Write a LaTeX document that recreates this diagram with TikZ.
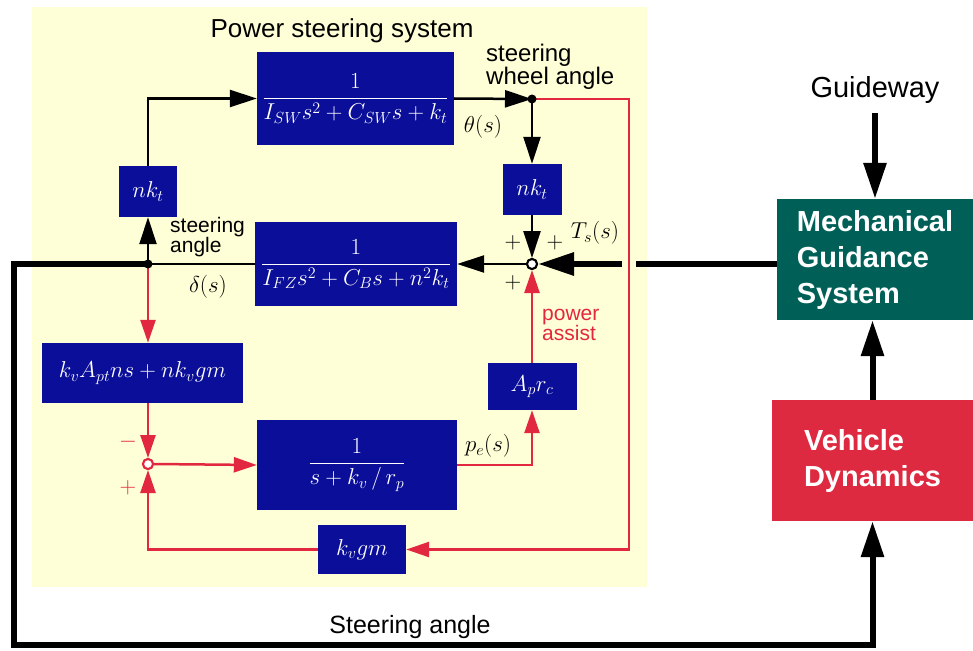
\documentclass[tikz,border=0pt]{standalone}
\usepackage{fix-cm}
\usepackage{fontspec}
\setmainfont{Liberation Sans}
\usetikzlibrary{arrows.meta,calc}
\definecolor{bblue}{RGB}{10,14,152}
\definecolor{rline}{RGB}{226,40,64}
\definecolor{teal}{RGB}{0,96,88}
\definecolor{vdred}{RGB}{222,42,64}
\definecolor{ybg}{RGB}{255,255,215}
\newcommand\mfs{\fontsize{23}{27}\selectfont}
\tikzset{
  blk/.style={fill=bblue, text=white, inner sep=0pt, font=\mfs},
  bl/.style={draw=black, line width=2.5pt},
  thk/.style={draw=black, line width=6pt},
  rd/.style={draw=rline, line width=2.5pt},
  tipB/.style={-{Triangle[length=27pt,width=17pt]}},
  tipT/.style={-{Triangle[length=36pt,width=22pt]}},
  tipR/.style={-{Triangle[length=23pt,width=15pt]}},
  sumc/.style={circle, draw=black, fill=white, line width=2pt, minimum size=10pt, inner sep=0pt},
  sumr/.style={circle, draw=rline, fill=white, line width=2pt, minimum size=10pt, inner sep=0pt},
  lbl/.style={inner sep=0pt, font=\fontsize{21}{18}\selectfont, align=left, anchor=west},
  mlbl/.style={inner sep=0pt, font=\mfs},
  sgn/.style={inner sep=0pt, font=\fontsize{23}{24}\selectfont},
  bigbox/.style={inner sep=0pt, text=white, align=left, font=\fontsize{29}{36}\selectfont\bfseries},
}
\begin{document}
\begin{tikzpicture}[x=1pt,y=-1pt]
\useasboundingbox (0,0) rectangle (973,650);
\fill[ybg] (32,7) rectangle (647,587);

% title
\node[inner sep=0pt, font=\fontsize{26}{28}\selectfont] (title) at (342,31) {Power steering system};

% blocks
\node[blk, minimum width=197pt, minimum height=93pt] (G1) at (355.5,98.5)
  {$\displaystyle\frac{1}{I_{SW}s^2+C_{SW}s+k_t}$};
\node[blk, minimum width=202pt, minimum height=84pt] (G2) at (356,264)
  {$\displaystyle\frac{1}{I_{FZ}s^2+C_{B}s+n^2k_t}$};
\node[blk, minimum width=58pt, minimum height=51pt] (nkL) at (148,191.5) {$nk_t$};
\node[blk, minimum width=59pt, minimum height=51pt] (nkR) at (532,189.5) {$nk_t$};
\node[blk, minimum width=201pt, minimum height=60pt] (kvA) at (142.5,373) {$k_vA_{pt}ns+nk_vgm$};
\node[blk, minimum width=200pt, minimum height=90pt] (G3) at (357,465)
  {$\displaystyle\frac{1}{s+k_v\,/\,r_p}$};
\node[blk, minimum width=89pt, minimum height=47pt] (Aprc) at (532,386.5) {$A_pr_c$};
\node[blk, minimum width=88pt, minimum height=49pt] (kvgm) at (362,549.5) {$k_vgm$};

\node[bigbox, fill=teal, minimum width=196pt, minimum height=121pt] (MGS) at (875,259.5)
  {Mechanical\\Guidance\\System};
\node[bigbox, fill=vdred, minimum width=201pt, minimum height=121pt] (VD) at (872.5,460.5)
  {Vehicle\\Dynamics};

\node[inner sep=0pt, font=\fontsize{29}{32}\selectfont] (gw) at (875,90) {Guideway};
\coordinate (gwS) at (875,113);
\node[inner sep=0pt, font=\fontsize{25}{28}\selectfont] (sa) at (410,627) {Steering angle};

% junctions
\coordinate (jT) at (532,99);
\coordinate (jL) at (148,264);
\node[sumc] (S1) at (532,264) {};
\node[sumr] (S2) at (148,464) {};

% corner coordinates
\coordinate (rTR) at (629,99);
\coordinate (rBR) at (629,549.5);
\coordinate (cLT) at (14,264);
\coordinate (cLB) at (14,645);
\coordinate (gapR) at (636,264);
\coordinate (gapL) at (622,264);

% red paths
\draw[rd, tipR] (jT) -- (rTR) -- (rBR) -- (kvgm.east);
\draw[rd, tipR] (jL) -- (jL |- kvA.north);
\draw[rd, tipR] (jL |- kvA.south) -- (S2.north);
\draw[rd, tipR] (S2.east) -- (G3.west);
\draw[rd, tipR] (G3.east) -| (Aprc.south);
\draw[rd, tipR] (Aprc.north) -- (S1.south);
\draw[rd, tipR] (kvgm.west) -| (S2.south);

% black paths
\draw[bl, tipB] (nkL.north) |- (G1.west);
\draw[bl, tipB] (G1.east) -- (jT);
\draw[bl, tipB] (jT) -- (nkR.north);
\draw[bl, tipB] (nkR.south) -- (S1.north);
\draw[bl, tipB] (S1.west) -- (G2.east);
\draw[bl] (G2.west) -- (jL);
\draw[bl, tipB] (jL) -- (nkL.south);

% thick paths
\draw[thk, tipT] (jL) -- (cLT) -- (cLB) -| (VD.south);
\draw[thk, tipT] (VD.north) -- (VD.north |- MGS.south);
\draw[thk, tipT] (gwS) -- (MGS.north);
\draw[thk] (S1 -| MGS.west) -- (gapR);
\draw[thk, tipT] (gapL) -- (S1.east);

% dots
\fill (jT) circle (4.5pt);
\fill (jL) circle (4.5pt);
\node[sumc] at (S1) {};
\node[sumr] at (S2) {};

% labels
\node[lbl, font=\fontsize{24}{18}\selectfont] (swa) at (486,67) {steering\\wheel angle};
\node[mlbl] (theta) at (483,127) {$\theta(s)$};
\node[lbl] (stang) at (170,237) {steering\\angle};
\node[mlbl] (delta) at (208,287) {$\delta(s)$};
\node[mlbl] (ts) at (595,233) {$T_s(s)$};
\node[mlbl] (pe) at (488,446) {$p_e(s)$};
\node[sgn] (p1) at (513,243) {$+$};
\node[sgn] (p2) at (555,243) {$+$};
\node[sgn] (p3) at (513,283) {$+$};
\node[sgn, text=rline] (m4) at (128,442) {$-$};
\node[sgn, text=rline] (p5) at (128,488) {$+$};
\node[lbl, text=rline, font=\fontsize{21}{17}\selectfont] (pa) at (542,325) {power\\assist};
\end{tikzpicture}
\end{document}
